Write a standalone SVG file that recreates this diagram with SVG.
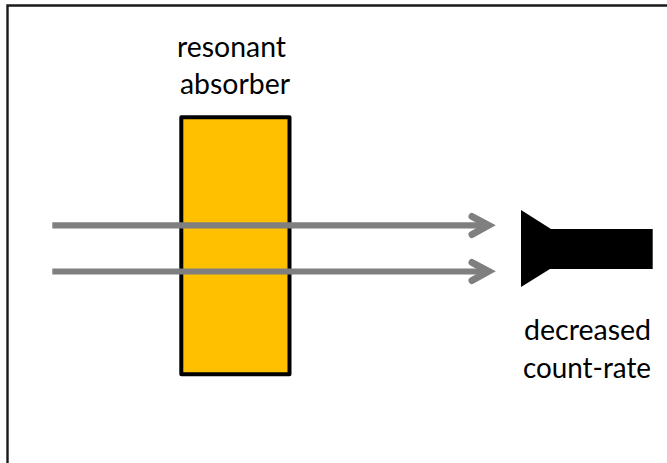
<svg xmlns="http://www.w3.org/2000/svg" width="667" height="463" viewBox="0 0 667 463">
<style>
.t{font-family:"Lato","Open Sans",sans-serif;font-size:29px;fill:#000;text-anchor:middle}
.s{fill:none;stroke:#7f7f7f;stroke-width:6.200}
.h{fill:none;stroke:#7f7f7f;stroke-width:7;stroke-linecap:round;stroke-linejoin:miter}
</style>
<rect width="667" height="463" fill="#fff"/>
<path d="M7.500 463V5.500H667" fill="none" stroke="#1a1a1a" stroke-width="2.400"/>
<g id="absorber">
<rect x="181.300" y="117.300" width="108.200" height="257" fill="#ffc000" stroke="#000" stroke-width="4" stroke-linejoin="round"/>
<text class="t" x="231.500" y="57" textLength="109" lengthAdjust="spacingAndGlyphs">resonant</text>
<text class="t" x="235" y="94" textLength="110" lengthAdjust="spacingAndGlyphs">absorber</text>
</g>
<g id="detector">
<path d="M521 210L551 229H652.700V269H550L521 287Z" fill="#000"/>
<text class="t" x="587.500" y="340" textLength="127" lengthAdjust="spacingAndGlyphs">decreased</text>
<text class="t" x="587" y="377.500" textLength="128" lengthAdjust="spacingAndGlyphs">count-rate</text>
</g>
<g id="connectors">
<path class="s" d="M52.300 225.300H488"/>
<path class="h" d="M472 216.500L488.500 225.300L472 234.500"/>
<path class="s" d="M52.300 271.500H488"/>
<path class="h" d="M472 262.500L488.500 271.300L472 280.500"/>
</g>
</svg>
